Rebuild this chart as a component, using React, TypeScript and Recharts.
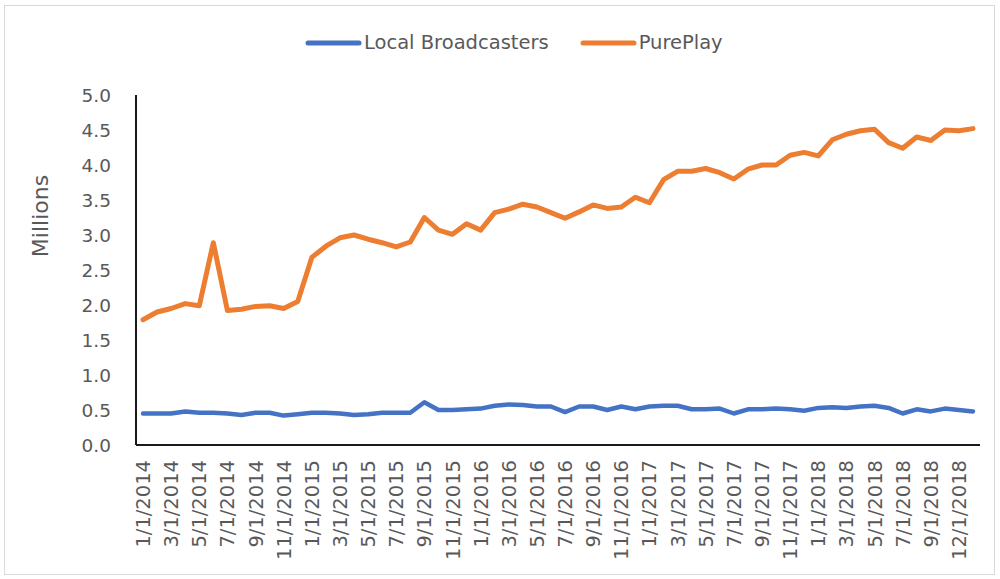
import React from 'react';
import { LineChart, Line, XAxis, YAxis, Legend } from 'recharts';

const categories = [
  '1/1/2014', '2/1/2014', '3/1/2014', '4/1/2014', '5/1/2014', '6/1/2014',
  '7/1/2014', '8/1/2014', '9/1/2014', '10/1/2014', '11/1/2014', '12/1/2014',
  '1/1/2015', '2/1/2015', '3/1/2015', '4/1/2015', '5/1/2015', '6/1/2015',
  '7/1/2015', '8/1/2015', '9/1/2015', '10/1/2015', '11/1/2015', '12/1/2015',
  '1/1/2016', '2/1/2016', '3/1/2016', '4/1/2016', '5/1/2016', '6/1/2016',
  '7/1/2016', '8/1/2016', '9/1/2016', '10/1/2016', '11/1/2016', '12/1/2016',
  '1/1/2017', '2/1/2017', '3/1/2017', '4/1/2017', '5/1/2017', '6/1/2017',
  '7/1/2017', '8/1/2017', '9/1/2017', '10/1/2017', '11/1/2017', '12/1/2017',
  '1/1/2018', '2/1/2018', '3/1/2018', '4/1/2018', '5/1/2018', '6/1/2018',
  '7/1/2018', '8/1/2018', '9/1/2018', '10/1/2018', '12/1/2018', '1/1/2019',
];

const localBroadcasters = [
  0.45, 0.45, 0.45, 0.48, 0.46, 0.46, 0.45, 0.43, 0.46, 0.46, 0.42, 0.44,
  0.46, 0.46, 0.45, 0.43, 0.44, 0.46, 0.46, 0.46, 0.61, 0.50, 0.50, 0.51,
  0.52, 0.56, 0.58, 0.57, 0.55, 0.55, 0.47, 0.55, 0.55, 0.50, 0.55, 0.51,
  0.55, 0.56, 0.56, 0.51, 0.51, 0.52, 0.45, 0.51, 0.51, 0.52, 0.51, 0.49,
  0.53, 0.54, 0.53, 0.55, 0.56, 0.53, 0.45, 0.51, 0.48, 0.52, 0.50, 0.48,
];

const purePlay = [
  1.79, 1.90, 1.95, 2.02, 1.99, 2.89, 1.92, 1.94, 1.98, 1.99, 1.95, 2.05,
  2.68, 2.84, 2.96, 3.00, 2.94, 2.89, 2.83, 2.90, 3.25, 3.07, 3.01, 3.16,
  3.07, 3.32, 3.37, 3.44, 3.40, 3.32, 3.24, 3.33, 3.43, 3.38, 3.40, 3.54,
  3.46, 3.79, 3.91, 3.91, 3.95, 3.89, 3.80, 3.94, 4.00, 4.00, 4.14, 4.18,
  4.13, 4.36, 4.44, 4.49, 4.51, 4.32, 4.24, 4.40, 4.35, 4.50, 4.49, 4.52,
];

const yTicks = [0, 0.5, 1, 1.5, 2, 2.5, 3, 3.5, 4, 4.5, 5];

const seriesNames = ['Local Broadcasters', 'PurePlay'];
const seriesColors = ['#4472C4', '#ED7D31'];

const data = categories.map((c, i) => ({
  date: c,
  local: localBroadcasters[i],
  pure: purePlay[i],
}));

const TEXT = '#595959';
const FONT = "'DejaVu Sans', sans-serif";

const XTick = (props: any) => {
  const { x, y, payload } = props;
  return (
    <text
      x={x}
      y={y}
      transform={`rotate(-90, ${x}, ${y})`}
      textAnchor="end"
      dy="0.36em"
      fill={TEXT}
      fontSize={19.5}
      fontFamily={FONT}
    >
      {payload.value}
    </text>
  );
};

const LegendContent = () => (
  <div
    style={{
      display: 'flex',
      alignItems: 'center',
      paddingLeft: 305,
      fontFamily: FONT,
      fontSize: 19.5,
      color: TEXT,
      whiteSpace: 'nowrap',
    }}
  >
    {seriesNames.map((n, i) => (
      <div key={n} style={{ display: 'flex', alignItems: 'center', marginRight: i === 0 ? 31 : 0 }}>
        <svg width={57} height={10} style={{ display: 'block' }}>
          <line x1={3} y1={5} x2={54} y2={5} stroke={seriesColors[i]} strokeWidth={5} strokeLinecap="round" />
        </svg>
        <span style={{ marginLeft: 2 }}>{n}</span>
      </div>
    ))}
  </div>
);

export default function App() {
  return (
    <div style={{ position: 'absolute', left: 0, top: 0, width: 1000, height: 579, background: '#fff' }}>
      <div
        style={{
          position: 'absolute',
          left: 4,
          top: 5,
          width: 991,
          height: 570,
          border: '1px solid #D9D9D9',
          boxSizing: 'border-box',
        }}
      />
      <div style={{ position: 'absolute', left: 0, top: 0 }}>
        <LineChart width={1000} height={579} data={data} margin={{ top: 95, right: 20, bottom: 0, left: 0 }}>
          <XAxis
            dataKey="date"
            interval={1}
            tickLine={false}
            axisLine={{ stroke: '#1a1a1a', strokeWidth: 2 }}
            padding={{ left: 7, right: 7 }}
            tick={<XTick />}
            tickMargin={9}
            height={134}
          />
          <YAxis
            width={136}
            domain={[0, 5]}
            ticks={yTicks}
            interval={0}
            tickFormatter={(v: number) => v.toFixed(1)}
            tickLine={false}
            axisLine={{ stroke: '#1a1a1a', strokeWidth: 2 }}
            tick={{ fill: TEXT, fontSize: 18.5, fontFamily: FONT }}
            tickMargin={19}
            label={{
              content: () => (
                <text
                  x={40}
                  y={216}
                  transform="rotate(-90, 40, 216)"
                  textAnchor="middle"
                  dominantBaseline="central"
                  fill={TEXT}
                  fontSize={22}
                  fontFamily={FONT}
                >
                  Millions
                </text>
              ),
            }}
          />
          <Legend verticalAlign="middle" align="center" wrapperStyle={{ top: 31, left: 0, width: 1000 }} content={<LegendContent />} />
          <Line
            type="linear"
            dataKey="local"
            name={seriesNames[0]}
            stroke={seriesColors[0]}
            strokeWidth={4.5}
            strokeLinejoin="round"
            strokeLinecap="round"
            dot={false}
            isAnimationActive={false}
          />
          <Line
            type="linear"
            dataKey="pure"
            name={seriesNames[1]}
            stroke={seriesColors[1]}
            strokeWidth={5}
            strokeLinejoin="round"
            strokeLinecap="round"
            dot={false}
            isAnimationActive={false}
          />
        </LineChart>
      </div>
    </div>
  );
}
